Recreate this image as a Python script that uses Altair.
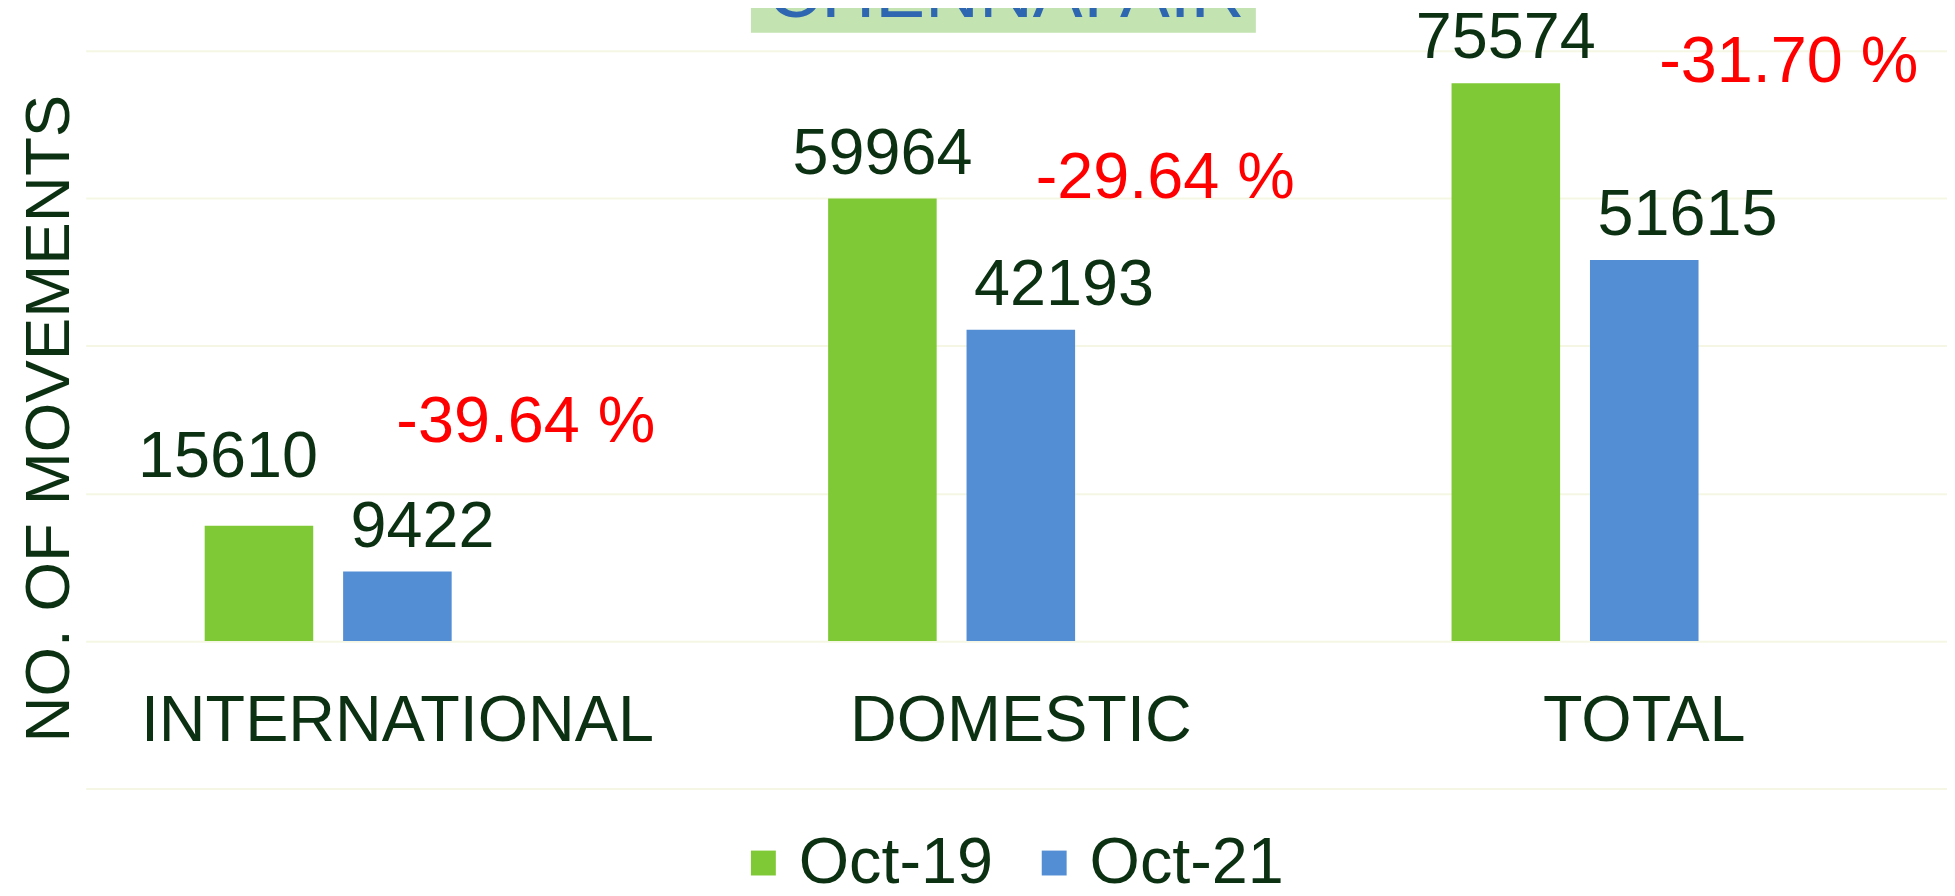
import altair as alt
import pandas as pd

# ---- data ----
categories = ["INTERNATIONAL", "DOMESTIC", "TOTAL"]
series_names = ["Oct-19", "Oct-21"]
oct19 = [15610, 59964, 75574]
oct21 = [9422, 42193, 51615]
pct_change = ["-39.64 %", "-29.64 %", "-31.70 %"]
title_text = "CHENNAI AIR"
y_title = "NO. OF MOVEMENTS"
grid_values = [-20000, 0, 20000, 40000, 60000, 80000]

rows = []
for c, a, b in zip(categories, oct19, oct21):
    rows.append({"category": c, "series": series_names[0], "value": a})
    rows.append({"category": c, "series": series_names[1], "value": b})
bars_df = pd.DataFrame(rows)
pct_df = pd.DataFrame({"category": categories, "series": "pct",
                       "label": pct_change, "value": oct19})
title_df = pd.DataFrame({"title": [title_text]})

FONT = "Liberation Sans, Arial, Helvetica, sans-serif"
GREEN = "#80C936"
BLUE = "#538DD3"
DARK = "#0C3012"
RED = "#FF0000"
BOX = "#C3E3B0"
TBLUE = "#2F66B2"
GRID = "#F5F7E4"
FS = 65

x_enc = alt.X(
    "category:N", sort=categories,
    scale=alt.Scale(range=[0, 1878], paddingInner=0, paddingOuter=0),
    axis=alt.Axis(orient="bottom", title=None, labelAngle=0, ticks=False, tickSize=0,
                  domain=False, grid=False, offset=-48, labelPadding=0,
                  labelBaseline="alphabetic", labelFontSize=FS, labelFont=FONT,
                  labelColor=DARK, labelLimit=0, labelOverlap=False),
)
xoff = alt.XOffset(
    "series:N",
    scale=alt.Scale(domain=series_names + ["pct"], paddingInner=0.2158, paddingOuter=0.8597),
)
y_enc = alt.Y(
    "value:Q",
    scale=alt.Scale(domain=[-20000, 80000], nice=False),
    axis=alt.Axis(values=grid_values, labels=False, ticks=False, domain=False, grid=True,
                  gridColor=GRID, gridWidth=2, title=y_title, titleX=-17, titleY=369,
                  titleAngle=270, titleAlign="center", titleBaseline="alphabetic",
                  titleFontSize=64, titleFontWeight="normal", titleColor=DARK,
                  titleFont=FONT),
)

bars = alt.Chart(bars_df).mark_bar().encode(
    x=x_enc, xOffset=xoff, y=y_enc,
    color=alt.Color("series:N",
                    scale=alt.Scale(domain=series_names, range=[GREEN, BLUE]),
                    legend=alt.Legend(title=None, orient="none", legendX=648, legendY=783,
                                      direction="horizontal", symbolType="square",
                                      symbolSize=625, symbolStrokeWidth=0, labelFontSize=FS,
                                      labelFont=FONT, labelColor=DARK, labelOffset=3,
                                      labelLimit=0, columnPadding=28, padding=0,
                                      rowPadding=0)),
)

txt = dict(font=FONT, fontSize=FS, color=DARK, baseline="alphabetic")
val_text = alt.Text("value:Q", format="d")

green_lab = alt.Chart(bars_df).transform_filter(
    (alt.datum.series == series_names[0]) & (alt.datum.category != categories[0])
).mark_text(align="center", dy=-25, **txt).encode(x=x_enc, xOffset=xoff, y=y_enc, text=val_text)

green_lab_int = alt.Chart(bars_df).transform_filter(
    (alt.datum.series == series_names[0]) & (alt.datum.category == categories[0])
).mark_text(align="center", dx=-31, dy=-49, **txt).encode(x=x_enc, xOffset=xoff, y=y_enc, text=val_text)

blue_lab = alt.Chart(bars_df).transform_filter(
    alt.datum.series == series_names[1]
).mark_text(align="left", dx=-47, dy=-25, **txt).encode(x=x_enc, xOffset=xoff, y=y_enc, text=val_text)

ptxt = dict(font=FONT, fontSize=FS, color=RED, baseline="alphabetic", align="center")
pct_lab = alt.Chart(pct_df).transform_filter(
    alt.datum.category != categories[0]
).mark_text(dx=6, dy=-1, **ptxt).encode(x=x_enc, xOffset=xoff, y=y_enc, text="label:N")
pct_lab_int = alt.Chart(pct_df).transform_filter(
    alt.datum.category == categories[0]
).mark_text(dx=-10, dy=-84, **ptxt).encode(x=x_enc, xOffset=xoff, y=y_enc, text="label:N")

title_box = alt.Chart(title_df).mark_rect(color=BOX).encode(
    x=alt.value(668), x2=alt.value(1175), y=alt.value(-50), y2=alt.value(-18))
title_txt = alt.Chart(title_df).mark_text(
    font=FONT, fontSize=75, color=TBLUE, baseline="alphabetic", align="center"
).encode(x=alt.value(924), y=alt.value(-34), text="title:N")

chart = alt.layer(
    title_box, title_txt, bars, green_lab, green_lab_int, blue_lab, pct_lab, pct_lab_int
).properties(
    width=1869, height=741,
    padding={"left": 78, "top": 41, "right": 0, "bottom": 98},
    autosize=alt.AutoSizeParams(type="none"),
    background="white",
).configure_view(stroke=None)

chart.save("out.html", embed_options={"renderer": "svg", "actions": False})
